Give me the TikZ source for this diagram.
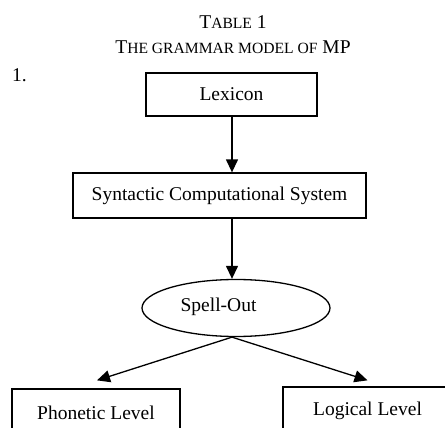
\documentclass[tikz,border=0pt]{standalone}
\usepackage{fontspec}
\setmainfont{Liberation Serif}
\usetikzlibrary{shapes.geometric,arrows.meta,calc}
\newcommand\mysc[1]{{\fontsize{15.6}{18}\selectfont #1}}
\begin{document}
\begin{tikzpicture}[x=1pt,y=-1pt,
  box/.style={draw,line width=1.3pt,inner sep=0,font=\fontsize{19.5}{23}\selectfont},
  arr/.style={line width=1.3pt,-{Triangle[length=13pt,width=12pt]}},
  txt/.style={inner sep=0,font=\fontsize{19.5}{23}\selectfont}]
\useasboundingbox (0,0) rectangle (445,428);
\clip (0,0) rectangle (445,428);
\node[txt,anchor=base] (t1) at (233,29) {T\mysc{ABLE} 1};
\node[txt,anchor=base] (t2) at (233,54) {T\mysc{HE GRAMMAR MODEL OF} MP};
\node[txt,anchor=base west] (num) at (12,82) {1.};
\node[box,minimum width=171pt,minimum height=43pt] (lex) at (231.5,94.5) {Lexicon};
\node[box,minimum width=293pt,minimum height=45pt] (syn) at (219.5,195.5) {Syntactic Computational System};
\node[draw,ellipse,line width=1.3pt,minimum width=188pt,minimum height=57pt,inner sep=0] (so) at (236,308) {};
\node[txt] (sotext) at (218.5,307) {Spell-Out};
\node[box,minimum width=168pt,minimum height=48pt] (phon) at (96,413) {Phonetic Level};
\node[box,minimum width=169pt,minimum height=48pt] (log) at (367.5,411) {Logical Level};
\draw[arr] (232,0 |- lex.south) coordinate (a1) -- (a1 |- syn.north);
\draw[arr] (a1 |- syn.south) -- (a1 |- so.north);
\draw[arr] (a1 |- so.south) -- ($(phon.north)+(1,-8)$);
\draw[arr] (a1 |- so.south) -- ($(log.north)+(0,-6)$);
\end{tikzpicture}
\end{document}
